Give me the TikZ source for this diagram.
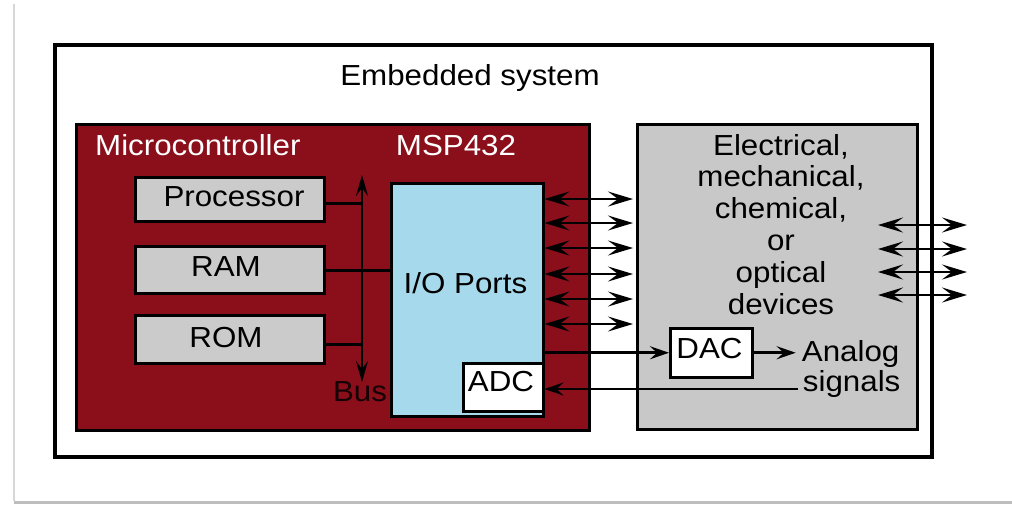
\documentclass[tikz,border=0pt]{standalone}
\usepackage{fontspec}
\setmainfont{Liberation Sans}[FakeStretch=1.08]
\usetikzlibrary{arrows.meta}
\definecolor{mcured}{HTML}{8A0F1B}
\definecolor{ioblue}{HTML}{A6D9EC}
\definecolor{devgray}{HTML}{C8C8C9}
\definecolor{boxgray}{HTML}{CBCBCB}
\definecolor{framegray}{HTML}{BDBDBD}
\tikzset{
  bigtip/.tip={Stealth[length=25pt,width=15pt,inset=10pt]},
  onetip/.tip={Stealth[length=19pt,width=13pt,inset=7pt]},
  bustip/.tip={Stealth[length=21pt,width=12pt,inset=8pt]},
}
\begin{document}
\begin{tikzpicture}[x=1pt,y=-1pt,
  txt/.style={font=\fontsize{29}{31.8}\selectfont, inner sep=0pt},
  blk/.style={draw=black, line width=2.5pt, inner sep=0pt, anchor=north west},
  biarrow/.style={line width=2.6pt, arrows=bigtip-bigtip},
  onearrow/.style={line width=2.6pt, arrows=-onetip},
  busarrow/.style={line width=2.6pt, arrows=bustip-bustip},
  wire/.style={line width=2.6pt}]
\useasboundingbox (0,0) rectangle (1012,504);
\fill[white] (0,0) rectangle (1012,504);
\fill[framegray] (14,501) rectangle (1012,504);
\draw[framegray!60, line width=1.5pt] (14,4) -- (14,501);

% outer box
\node[blk, fill=white, line width=3.5pt, minimum width=877pt, minimum height=412pt] (emb) at (53,43) {};
\node[txt, anchor=base] (embt) at (470,85) {Embedded system};

% microcontroller
\node[blk, fill=mcured, minimum width=513pt, minimum height=306pt] (mcu) at (75,123) {};
\node[txt, anchor=base west, text=white] (mcut) at (95,155) {Microcontroller};
\node[txt, anchor=base, text=white] (msp) at (456,155) {MSP432};

\node[blk, fill=boxgray, minimum width=189pt, minimum height=44pt] (proc) at (134,176) {};
\node[txt, anchor=base] (proct) at (234,206.7) {Processor};
\node[blk, fill=boxgray, minimum width=189pt, minimum height=47pt] (ram) at (134,245) {};
\node[txt, anchor=base] (ramt) at (226,276.7) {RAM};
\node[blk, fill=boxgray, minimum width=189pt, minimum height=48pt] (rom) at (134,314) {};
\node[txt, anchor=base] (romt) at (226,347) {ROM};

% bus
\coordinate (bustop) at (362,175);
\coordinate (busbot) at (362,382);
\draw[busarrow] (bustop) -- (busbot);
\node[txt, anchor=base, text=black!85!mcured] (bust) at (360,401.7) {Bus};

% I/O ports
\node[blk, fill=ioblue, minimum width=152pt, minimum height=233pt] (io) at (390,182) {};
\node[txt, anchor=base] (iot) at (465.5,293) {I/O Ports};
\node[blk, fill=white, minimum width=80pt, minimum height=48pt] (adc) at (462,362) {};
\node[txt, anchor=base] (adct) at (501,391.7) {ADC};

\draw[wire] ([yshift=-4pt]proc.east) -- ([yshift=-4pt]proc.east -| bustop);
\draw[wire] ([yshift=-0.5pt]ram.east) -- ([yshift=-0.5pt]ram.east -| io.west);
\draw[wire] ([yshift=-5pt]rom.east) -- ([yshift=-5pt]rom.east -| bustop);

% devices
\node[blk, fill=devgray, minimum width=280pt, minimum height=305pt] (dev) at (636,123) {};
\node[txt, align=center, anchor=base] (devt) at (781,314)
  {Electrical,\\mechanical,\\chemical,\\or\\optical\\devices};
\node[blk, fill=white, minimum width=82pt, minimum height=49pt] (dac) at (669,327) {};
\node[txt, anchor=base] (dact) at (709.5,358) {DAC};
\node[txt, anchor=base west] (analog) at (801.7,361.7) {Analog};
\node[txt, anchor=base west] (signals) at (802.7,391.7) {signals};

% I/O arrows
\foreach \y in {199,223,248,274,299,324}{
  \coordinate (t) at (0,\y);
  \draw[biarrow] (io.east |- t) -- ([xshift=-3pt]dev.west |- t);
}
% external arrows
\foreach \y in {225,249,272,295}{
  \coordinate (el) at (878,\y);
  \coordinate (er) at (967,\y);
  \draw[biarrow] (el) -- (er);
}

% DAC / ADC
\coordinate (dacin) at ([xshift=-2pt]io.east |- dac.west);
\draw[onearrow] (dacin) -- (dac.west);
\draw[onearrow] (dac.east) -- ([xshift=-6pt]analog.west |- dac.east);
\coordinate (adcsrc) at (798,389);
\draw[onearrow] (adcsrc) -- (adcsrc -| adc.east);
\end{tikzpicture}
\end{document}
